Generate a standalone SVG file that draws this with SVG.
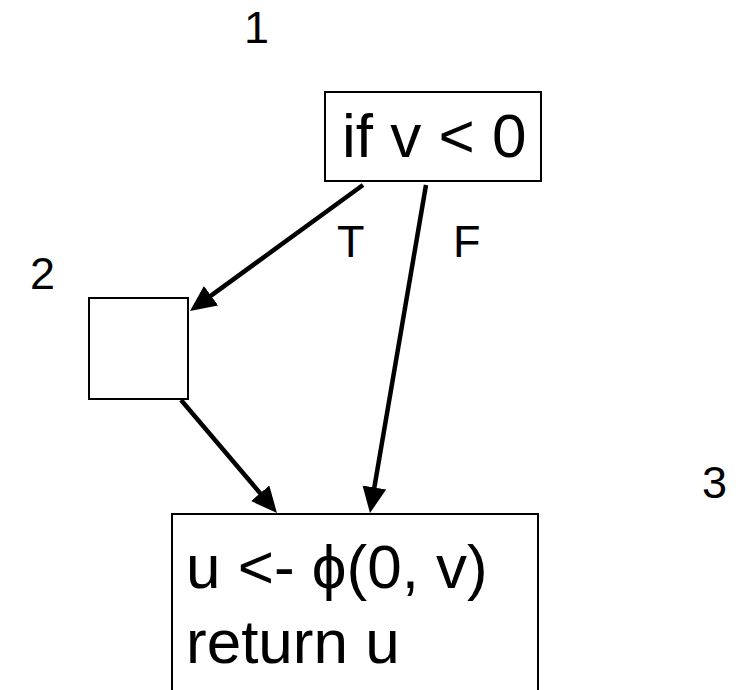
<svg xmlns="http://www.w3.org/2000/svg" width="742" height="690" viewBox="0 0 742 690">
<style>
.box{fill:#fff;stroke:#000;stroke-width:2}
.big{font-family:"Liberation Sans",Arial,sans-serif;font-size:62px;fill:#000}
.lbl{font-family:"Liberation Sans",Arial,sans-serif;font-size:45px;fill:#000}
.edge{stroke:#000;stroke-width:4.5;fill:none;marker-end:url(#ah)}
</style>
<defs>
<marker id="ah" markerUnits="userSpaceOnUse" markerWidth="28" markerHeight="24" refX="14" refY="12" orient="auto" viewBox="0 0 28 24">
<path d="M0,0 L26,12 L0,24 z" fill="#000"/>
</marker>
</defs>
<rect width="742" height="690" fill="#fff"/>
<g id="labels">
<text class="lbl" x="244" y="43">1</text>
<text class="lbl" x="30" y="289">2</text>
<text class="lbl" x="702" y="498">3</text>
</g>
<g id="connectors">
<line class="edge" x1="363" y1="185" x2="199.7" y2="303.9"/>
<line class="edge" x1="426" y1="185" x2="372" y2="501.2"/>
<line class="edge" x1="181" y1="400" x2="269.2" y2="503.9"/>
<text class="lbl" x="337" y="257">T</text>
<text class="lbl" x="453" y="257">F</text>
</g>
<g id="node1">
<rect class="box" x="325" y="92" width="216" height="89"/>
<text class="big" x="342" y="157">if v &lt; 0</text>
</g>
<g id="node2">
<rect class="box" x="89" y="298" width="99" height="101"/>
</g>
<g id="node3">
<rect class="box" x="172" y="514" width="366" height="200"/>
<text class="big" x="186" y="588">u &lt;- ϕ(0, v)</text>
<text class="big" x="186" y="663">return u</text>
</g>
</svg>
